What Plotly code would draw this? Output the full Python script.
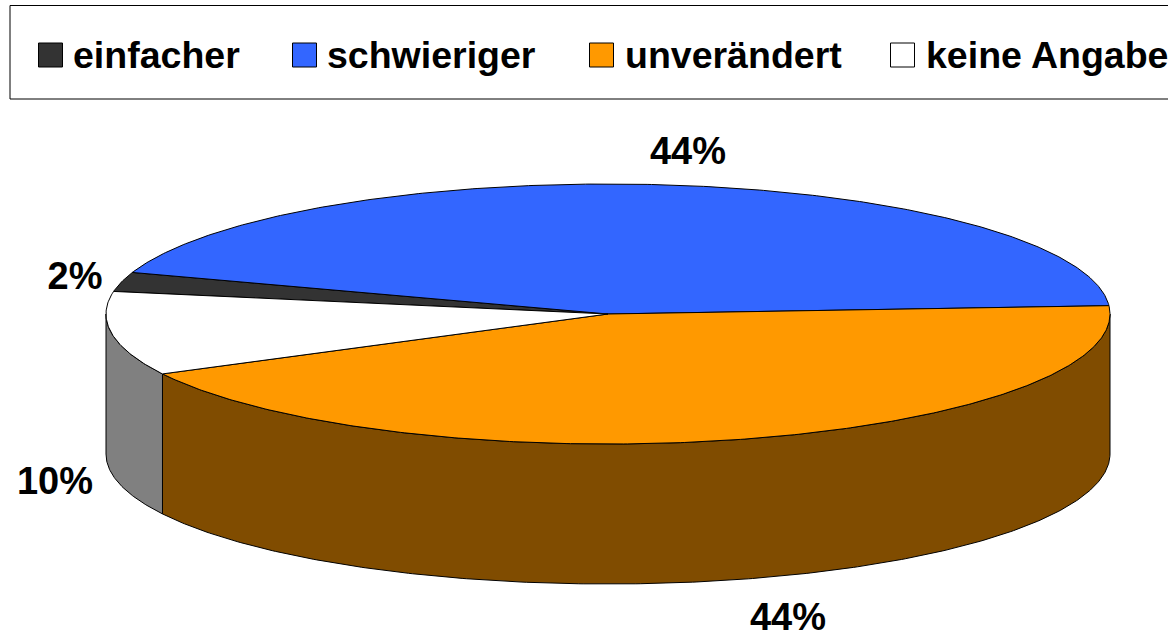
import numpy as np
import plotly.graph_objects as go

categories = ["einfacher", "schwieriger", "unverändert", "keine Angabe"]
values = [2.4, 43.8, 43.4, 10.4]
labels = ["2%", "44%", "44%", "10%"]
colors = ["#333333", "#3366FF", "#FF9900", "#FFFFFF"]
side_colors = ["#1A1A1A", "#1A337F", "#804C00", "#808080"]

# geometry of the tilted disc, in page pixels
CX, CY, RX, RY, DEPTH = 608, 314, 502, 130, 140
START_ANGLE = 170.0
FONT = "Liberation Sans"
LABEL_POS = [(75, 279), (688, 154), (788, 620), (55, 484)]
SWATCH_X = [38.5, 292.5, 589.5, 890.5]
TEXT_X = [73, 327, 625, 926]


def arc(a0, a1, dz=0.0):
    t = np.radians(np.linspace(a0, a1, max(int(abs(a1 - a0) * 2), 2)))
    return CX + RX * np.cos(t), CY - RY * np.sin(t) + dz


fig = go.Figure()
LINE = dict(color="#000000", width=1)

angles = START_ANGLE - np.cumsum([0] + values) * 3.6

# visible outer walls: only the front half of the disc (180..360 degrees)
for i, cat in enumerate(categories):
    a0, a1 = angles[i], angles[i + 1]
    start = min(a0, 0)
    end = max(a1, -180)
    if start <= end:
        continue
    xt, yt = arc(start, end)
    xb, yb = arc(end, start, DEPTH)
    fig.add_trace(go.Scatter(
        x=np.r_[xt, xb, xt[0]], y=np.r_[yt, yb, yt[0]],
        mode="lines", fill="toself", fillcolor=side_colors[i],
        line=LINE, hoverinfo="skip", showlegend=False))

# top faces
for i, cat in enumerate(categories):
    x, y = arc(angles[i], angles[i + 1])
    fig.add_trace(go.Scatter(
        x=np.r_[CX, x, CX], y=np.r_[CY, y, CY],
        mode="lines", fill="toself", fillcolor=colors[i],
        line=LINE, name=cat, hovertemplate=f"{cat}: {labels[i]}<extra></extra>",
        showlegend=False))

# percentage labels
fig.add_trace(go.Scatter(
    x=[p[0] for p in LABEL_POS], y=[p[1] for p in LABEL_POS],
    text=labels, mode="text", textposition="middle center",
    textfont=dict(family=FONT, size=38, color="#000000", weight="bold"),
    hoverinfo="skip", showlegend=False, cliponaxis=False))

shapes = [dict(type="rect", xref="x", yref="y", x0=10, x1=1300, y0=5.5, y1=99,
               line=dict(color="#000000", width=1), fillcolor="#FFFFFF", layer="below")]
annotations = []
for i, cat in enumerate(categories):
    shapes.append(dict(type="rect", xref="x", yref="y",
                       x0=SWATCH_X[i], x1=SWATCH_X[i] + 24, y0=43, y1=67,
                       line=dict(color="#000000", width=1), fillcolor=colors[i]))
    annotations.append(dict(x=TEXT_X[i], y=55, xref="x", yref="y", text=f"<b>{cat}</b>",
                            showarrow=False, xanchor="left", yanchor="middle",
                            borderpad=0, xshift=-1,
                            font=dict(family=FONT, size=37.5, color="#000000")))

fig.update_layout(
    width=1168, height=630, autosize=False,
    margin=dict(l=0, r=0, t=0, b=0),
    paper_bgcolor="#FFFFFF", plot_bgcolor="#FFFFFF",
    xaxis=dict(range=[0, 1168], visible=False, fixedrange=True),
    yaxis=dict(range=[630, 0], visible=False, fixedrange=True),
    shapes=shapes, annotations=annotations, showlegend=False,
)
fig.write_html("out.html", config={"displayModeBar": False},
               post_script="document.body.style.margin='0';document.documentElement.style.overflow='hidden';")
